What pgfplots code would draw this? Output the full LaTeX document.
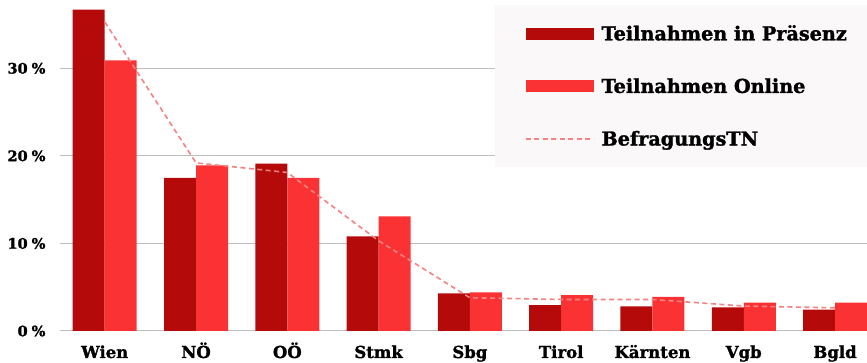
\documentclass[border=0pt]{standalone}
\usepackage{fontspec}
\setmainfont{DejaVu Serif}
\newfontfamily\heavy{DejaVu Serif Bold}[FakeBold=1.5]
\usepackage{pgfplots}
\pgfplotsset{compat=1.18}
\definecolor{darkred}{RGB}{180,10,10}
\definecolor{lightred}{RGB}{250,50,52}
\definecolor{linered}{RGB}{244,130,130}
\definecolor{gridgray}{RGB}{190,190,190}
\definecolor{legbg}{RGB}{251,248,250}
\begin{document}
\begin{tikzpicture}[x=1pt,y=1pt]
\path[use as bounding box] (-60,-32) rectangle (807,331);
\begin{axis}[
  at={(0,0)}, anchor=south west,
  width=807pt, height=331pt, scale only axis,
  xmin=-0.49, xmax=8.35, ymin=0, ymax=37.8,
  ybar=0pt, bar width=32pt,
  axis line style={draw=none},
  ymajorgrids, grid style={gridgray, line width=1pt},
  major tick length=0pt,
  ytick={0,10,20,30},
  yticklabel={\pgfmathprintnumber{\tick}\hspace{4pt}\%},
  xtick=data,
  xticklabels={Wien,NÖ,OÖ,Stmk,Sbg,Tirol,Kärnten,Vgb,Bgld},
  /pgf/number format/assume math mode=true,
  yticklabel style={font=\heavy\fontsize{14.5}{16}\selectfont, xshift=-11pt},
  xticklabel style={font=\heavy\fontsize{16.5}{19}\selectfont, anchor=base, yshift=-27pt},
  legend style={at={(1,1)}, anchor=north east, yshift=-5pt, fill=legbg, draw=none,
    inner xsep=13pt, inner ysep=18pt, row sep=32.5pt,
    nodes={font=\heavy\fontsize{19.2}{22}\selectfont, inner xsep=7pt}},
  legend cell align=left,
]
\addplot[fill=darkred, draw=none,
  legend image code/.code={\path (-17pt,0pt); \fill[darkred] (0pt,-6pt) rectangle (68pt,6pt);}]
  coordinates {(0,36.7) (1,17.5) (2,19.1) (3,10.8) (4,4.3) (5,2.95) (6,2.8) (7,2.7) (8,2.45)};
\addlegendentry{Teilnahmen in Präsenz}
\addplot[fill=lightred, draw=none,
  legend image code/.code={\path (-17pt,0pt); \fill[lightred] (0pt,-6pt) rectangle (68pt,6pt);}]
  coordinates {(0,30.9) (1,18.9) (2,17.5) (3,13.1) (4,4.4) (5,4.1) (6,3.9) (7,3.25) (8,3.25)};
\addlegendentry{Teilnahmen Online}
\addplot[sharp plot, color=linered, line width=1.6pt, dash pattern=on 5pt off 3.5pt, mark=none,
  legend image code/.code={\path (-17pt,0pt); \draw[linered, line width=1.6pt, dash pattern=on 5pt off 3.5pt] (0pt,0pt) -- (68pt,0pt);}]
  coordinates {(0,35.3) (1,19.2) (2,18.1) (3,10.3) (4,3.8) (5,3.6) (6,3.6) (7,2.85) (8,2.65)};
\addlegendentry{BefragungsTN}
\end{axis}
\end{tikzpicture}
\end{document}
